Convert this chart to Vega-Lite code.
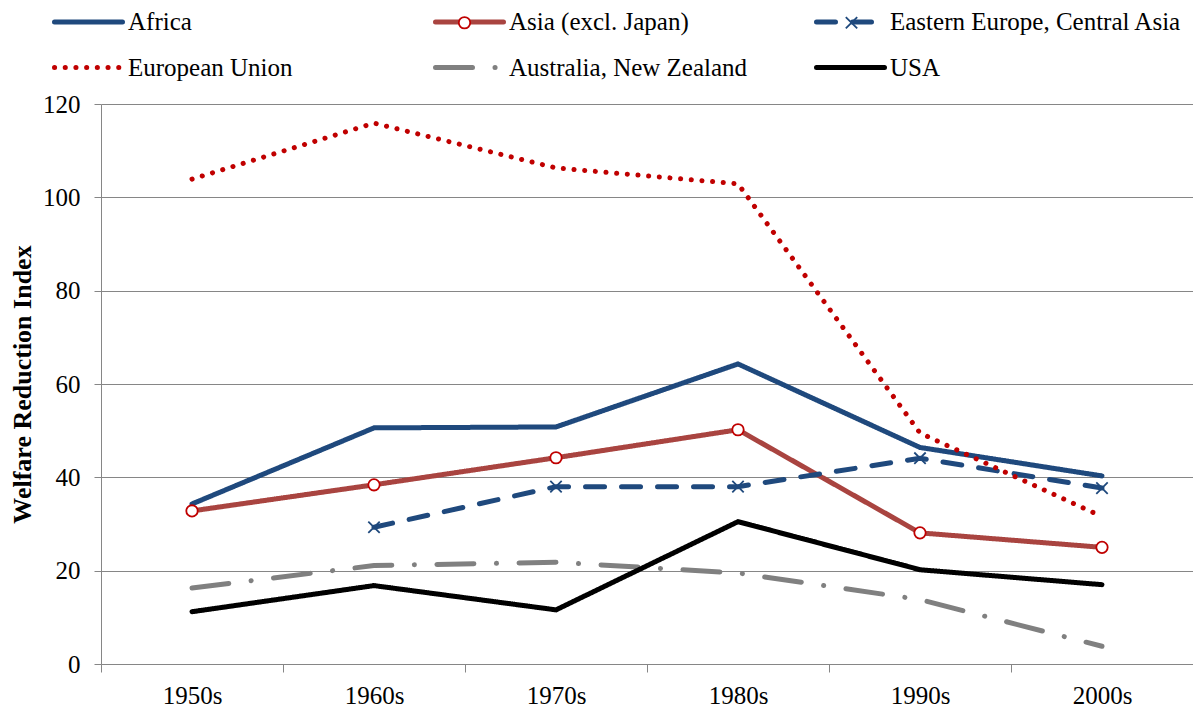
{
  "$schema": "https://vega.github.io/schema/vega-lite/v6.json",
  "width": 1092,
  "height": 560,
  "autosize": {"type": "none"},
  "padding": {"left": 101, "top": 104, "right": 0, "bottom": 43},
  "background": "white",
  "config": {
    "view": {"stroke": null},
    "font": "Liberation Serif"
  },
  "data": {
    "values": [
      {"decade": "1950s", "series": "Africa", "value": 34.3},
      {"decade": "1960s", "series": "Africa", "value": 50.6},
      {"decade": "1970s", "series": "Africa", "value": 50.8},
      {"decade": "1980s", "series": "Africa", "value": 64.3},
      {"decade": "1990s", "series": "Africa", "value": 46.4},
      {"decade": "2000s", "series": "Africa", "value": 40.3},
      {"decade": "1950s", "series": "Asia (excl. Japan)", "value": 32.8},
      {"decade": "1960s", "series": "Asia (excl. Japan)", "value": 38.4},
      {"decade": "1970s", "series": "Asia (excl. Japan)", "value": 44.2},
      {"decade": "1980s", "series": "Asia (excl. Japan)", "value": 50.2},
      {"decade": "1990s", "series": "Asia (excl. Japan)", "value": 28.1},
      {"decade": "2000s", "series": "Asia (excl. Japan)", "value": 25.0},
      {"decade": "1960s", "series": "Eastern Europe, Central Asia", "value": 29.3},
      {"decade": "1970s", "series": "Eastern Europe, Central Asia", "value": 38.0},
      {"decade": "1980s", "series": "Eastern Europe, Central Asia", "value": 38.0},
      {"decade": "1990s", "series": "Eastern Europe, Central Asia", "value": 44.1},
      {"decade": "2000s", "series": "Eastern Europe, Central Asia", "value": 37.7},
      {"decade": "1950s", "series": "European Union", "value": 103.9},
      {"decade": "1960s", "series": "European Union", "value": 115.9},
      {"decade": "1970s", "series": "European Union", "value": 106.3},
      {"decade": "1980s", "series": "European Union", "value": 102.9},
      {"decade": "1990s", "series": "European Union", "value": 49.5},
      {"decade": "2000s", "series": "European Union", "value": 31.6},
      {"decade": "1950s", "series": "Australia, New Zealand", "value": 16.3},
      {"decade": "1960s", "series": "Australia, New Zealand", "value": 21.1},
      {"decade": "1970s", "series": "Australia, New Zealand", "value": 21.8},
      {"decade": "1980s", "series": "Australia, New Zealand", "value": 19.5},
      {"decade": "1990s", "series": "Australia, New Zealand", "value": 13.8},
      {"decade": "2000s", "series": "Australia, New Zealand", "value": 3.8},
      {"decade": "1950s", "series": "USA", "value": 11.2},
      {"decade": "1960s", "series": "USA", "value": 16.8},
      {"decade": "1970s", "series": "USA", "value": 11.6},
      {"decade": "1980s", "series": "USA", "value": 30.5},
      {"decade": "1990s", "series": "USA", "value": 20.2},
      {"decade": "2000s", "series": "USA", "value": 17.0}
    ]
  },
  "layer": [
    {
      "mark": {"type": "line", "strokeWidth": 5, "strokeCap": "round"},
      "encoding": {
        "x": {
          "field": "decade",
          "type": "ordinal",
          "scale": {"type": "band", "paddingInner": 0, "paddingOuter": 0},
          "axis": {
            "title": null,
            "tickBand": "extent",
            "tickSize": 8,
            "tickColor": "#868686",
            "domainColor": "#868686",
            "labelFont": "Liberation Serif",
            "labelFontSize": 25,
            "labelColor": "black",
            "labelPadding": 11,
            "labelAngle": 0,
            "grid": false
          }
        },
        "y": {
          "field": "value",
          "type": "quantitative",
          "scale": {"domain": [0, 120], "nice": false},
          "axis": {
            "title": "Welfare Reduction Index",
            "titleFont": "Liberation Serif",
            "titleFontSize": 26,
            "titleFontWeight": "bold",
            "titleColor": "black",
            "titlePadding": 7,
            "values": [0, 20, 40, 60, 80, 100, 120],
            "tickSize": 7,
            "tickColor": "#868686",
            "domainColor": "#868686",
            "gridColor": "#868686",
            "grid": true,
            "labelFont": "Liberation Serif",
            "labelFontSize": 25,
            "labelColor": "black",
            "labelPadding": 14
          }
        },
        "color": {
          "field": "series",
          "type": "nominal",
          "scale": {
            "domain": ["Africa", "Asia (excl. Japan)", "Eastern Europe, Central Asia", "European Union", "Australia, New Zealand", "USA"],
            "range": ["#1F497D", "#A94440", "#1F497D", "#C00000", "#808080", "#000000"]
          },
          "legend": {
            "orient": "none",
            "legendX": -27.5,
            "legendY": -97,
            "direction": "horizontal",
            "columns": 3,
            "title": null,
            "symbolType": "M-2.72,0L2.72,0",
            "symbolSize": 625,
            "symbolStrokeWidth": 5,
            "labelFont": "Liberation Serif",
            "labelFontSize": 25,
            "labelColor": "black",
            "labelOffset": 24.5,
            "labelLimit": 400,
            "columnPadding": 5,
            "rowPadding": 17.5,
            "gridAlign": "all",
            "padding": 0,
            "encoding": {"symbols": {"strokeCap": {"value": "round"}}}
          }
        },
        "strokeDash": {
          "field": "series",
          "type": "nominal",
          "scale": {
            "domain": ["Africa", "Asia (excl. Japan)", "Eastern Europe, Central Asia", "European Union", "Australia, New Zealand", "USA"],
            "range": [[1, 0], [1, 0], [19, 17], [0.1, 10.6], [37, 22.5, 0.1, 22.5], [1, 0]]
          }
        }
      }
    },
    {
      "transform": [
        {"filter": "datum.series === 'Asia (excl. Japan)' || datum.series === 'Eastern Europe, Central Asia'"}
      ],
      "mark": {"type": "point", "filled": true, "strokeWidth": 1.8, "size": 130, "opacity": 1},
      "encoding": {
        "x": {"field": "decade", "type": "ordinal"},
        "y": {"field": "value", "type": "quantitative"},
        "stroke": {
          "field": "series",
          "type": "nominal",
          "scale": {"range": ["#C00000", "#1F497D"]},
          "legend": {
            "orient": "none",
            "legendX": 351,
            "legendY": -94,
            "direction": "horizontal",
            "columns": 2,
            "title": null,
            "symbolSize": 130,
            "symbolStrokeWidth": 1.8,
            "labelFont": "Liberation Serif",
            "labelFontSize": 25,
            "labelExpr": "''",
            "labelOffset": 3,
            "labelLimit": 400,
            "columnPadding": 359,
            "rowPadding": 18,
            "gridAlign": "all",
            "padding": 0
          }
        },
        "fill": {
          "field": "series",
          "type": "nominal",
          "scale": {"range": ["white", "transparent"]}
        },
        "shape": {
          "field": "series",
          "type": "nominal",
          "scale": {"range": ["circle", "M-1,-1L1,1M-1,1L1,-1"]}
        }
      }
    }
  ]
}
